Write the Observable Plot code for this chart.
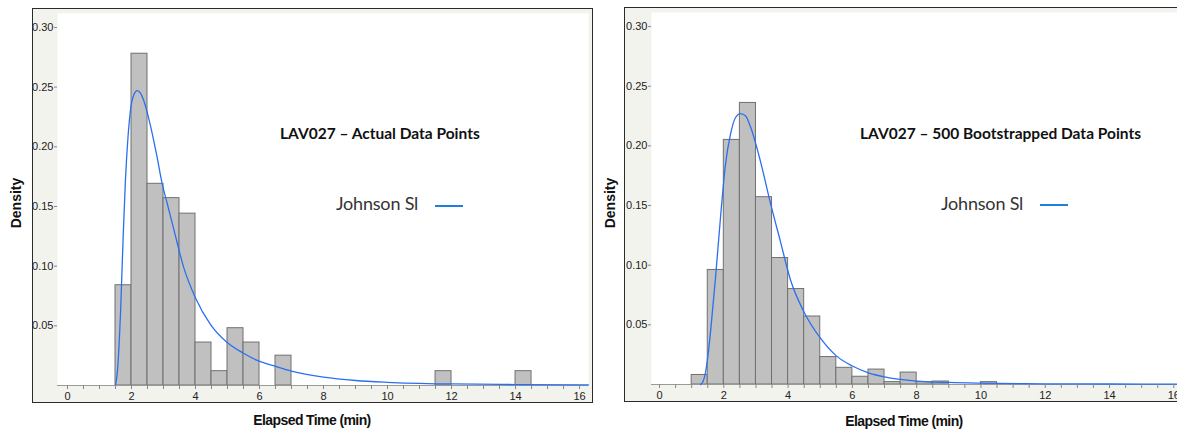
<!DOCTYPE html>
<html>
<head>
<meta charset="utf-8">
<script src="https://cdn.jsdelivr.net/npm/d3@7"></script>
<script src="https://cdn.jsdelivr.net/npm/@observablehq/plot@0.6"></script>
<style>
  html, body { margin: 0; padding: 0; background: #ffffff; }
  #page { position: relative; width: 1177px; height: 434px; overflow: hidden; background: #ffffff; }
  .panel { position: absolute; box-sizing: border-box; background: #f3f3ee; border: 1.5px solid #2b2b2b; overflow: hidden; }
  .panel svg { position: absolute; left: 0; top: 0; }
  .txt { position: absolute; white-space: nowrap; }
  .ylab { font: bold 14px "Liberation Sans", Arial, sans-serif; color: #111; transform: translate(-50%, -50%) rotate(-90deg); }
  .xlab { font: bold 14px "Liberation Sans", Arial, sans-serif; color: #111; transform: translate(-50%, -50%); letter-spacing: -0.6px; }
  .title { font: bold 15.5px Lato, "Open Sans", sans-serif; color: #111; line-height: 20px; }
  .legend { font: 18px Lato, "Open Sans", sans-serif; color: #333; line-height: 24px; letter-spacing: -0.2px; }
  .swatch { position: absolute; height: 2px; background: #1f7fe0; }
</style>
</head>
<body>
<div id="page">
  <div class="panel" id="left" style="left:32px; top:8px; width:561px; height:395px;"></div>
  <div class="panel" id="right" style="left:624px; top:7px; width:570px; height:395px;"></div>

  <div class="txt ylab" style="left:16px; top:203px;">Density</div>
  <div class="txt ylab" style="left:610px; top:203px;">Density</div>
  <div class="txt xlab" style="left:312px; top:420px;">Elapsed Time (min)</div>
  <div class="txt xlab" style="left:904px; top:421px;">Elapsed Time (min)</div>

  <div class="txt title" style="left:280px; top:123px;">LAV027 – Actual Data Points</div>
  <div class="txt title" style="left:860px; top:123px;">LAV027 – 500 Bootstrapped Data Points</div>

  <div class="txt legend" style="left:336px; top:191px;">Johnson Sl</div>
  <div class="swatch" style="left:435px; top:205px; width:28px;"></div>
  <div class="txt legend" style="left:941px; top:191px;">Johnson Sl</div>
  <div class="swatch" style="left:1040px; top:204px; width:28px;"></div>
</div>

<script>
// Histogram bins (lower edge, width 0.5 min) and bar densities
const binWidth = 0.5;

const actualBinStart = [1.5, 2, 2.5, 3, 3.5, 4, 4.5, 5, 5.5, 6.5, 11.5, 14];
const actualDensity  = [0.084, 0.278, 0.169, 0.157, 0.144, 0.036, 0.012, 0.048, 0.036, 0.025, 0.012, 0.012];

const bootBinStart = [1, 1.5, 2, 2.5, 3, 3.5, 4, 4.5, 5, 5.5, 6, 6.5, 7, 7.5, 8, 8.5, 10];
const bootDensity  = [0.008, 0.096, 0.205, 0.236, 0.157, 0.106, 0.080, 0.057, 0.023, 0.014, 0.0065, 0.0125, 0.002, 0.010, 0.002, 0.0025, 0.002];

// Fitted Johnson SL density curves (elapsed time, density)
const actualFitX = [1.5, 1.56, 1.66, 1.74, 1.81, 1.89, 1.97, 2.08, 2.18, 2.28, 2.38, 2.59, 2.78, 2.96, 3.14, 3.32, 3.63, 3.99, 4.47, 4.99, 5.5, 5.93, 6.5, 7, 8, 9, 10, 12, 14, 16.28];
const actualFitY = [0, 0.012, 0.063, 0.125, 0.172, 0.208, 0.231, 0.244, 0.247, 0.245, 0.239, 0.218, 0.194, 0.169, 0.150, 0.131, 0.099, 0.074, 0.051, 0.036, 0.027, 0.021, 0.016, 0.012, 0.007, 0.0042, 0.0027, 0.0013, 0.0008, 0.0005];

const bootFitX = [1.28, 1.36, 1.43, 1.51, 1.59, 1.74, 1.9, 2.05, 2.21, 2.37, 2.52, 2.68, 2.83, 3.14, 3.45, 3.76, 4.07, 4.49, 5.0, 5.5, 6.0, 6.5, 7, 8, 9, 10, 12, 14, 16.27];
const bootFitY = [0, 0.003, 0.010, 0.025, 0.045, 0.089, 0.141, 0.184, 0.210, 0.224, 0.227, 0.225, 0.216, 0.187, 0.152, 0.120, 0.088, 0.061, 0.039, 0.024, 0.0155, 0.0098, 0.0064, 0.0029, 0.0017, 0.0011, 0.0006, 0.0004, 0.0003];

// Axis ticks
const xTickLabels = [0, 2, 4, 6, 8, 10, 12, 14, 16];
const yTickLabels = [0.05, 0.10, 0.15, 0.20, 0.25, 0.30];

const minorTicks = d3.range(0, 16.001, binWidth);

const bars = (starts, dens) => starts.map((s, i) => ({x1: s, x2: s + binWidth, y: dens[i]}));
const pts = (xs, ys) => xs.map((x, i) => ({x, y: ys[i]}));

function panel({width, height, marginLeft, marginRight, marginTop, marginBottom, xDomain, yDomain, hist, fit}) {
  return Plot.plot({
    width, height, marginLeft, marginRight, marginTop, marginBottom,
    style: {background: "transparent", fontFamily: "Liberation Sans, Arial, sans-serif", fontSize: "11px", color: "#222"},
    x: {domain: xDomain},
    y: {domain: yDomain},
    marks: [
      Plot.frame({fill: "white", stroke: null}),
      Plot.rectY(hist, {x1: "x1", x2: "x2", y: "y", fill: "#c0c0c0", stroke: "#707070", strokeWidth: 1}),
      Plot.ruleY([0], {stroke: "#9a9a9a"}),
      Plot.line(fit, {x: "x", y: "y", stroke: "#2b6ff0", strokeWidth: 1.3, curve: "monotone-x"}),
      Plot.axisX({ticks: minorTicks, tickFormat: d => xTickLabels.includes(d) ? String(d) : "", tickSize: 4, tickPadding: 3, stroke: "#888", label: null}),
      Plot.axisY({ticks: yTickLabels, tickFormat: d3.format(".2f"), tickSize: 3, tickPadding: 1, stroke: "#888", label: null})
    ]
  });
}

document.getElementById("left").appendChild(panel({
  width: 559, height: 393,
  marginLeft: 24, marginRight: 4, marginTop: 4, marginBottom: 17,
  xDomain: [-0.3125, 16.28], yDomain: [0, 0.3117],
  hist: bars(actualBinStart, actualDensity),
  fit: pts(actualFitX, actualFitY)
}));

document.getElementById("right").appendChild(panel({
  width: 560, height: 393,
  marginLeft: 26, marginRight: 3, marginTop: 4, marginBottom: 17,
  xDomain: [-0.25, 16.27], yDomain: [0, 0.3118],
  hist: bars(bootBinStart, bootDensity),
  fit: pts(bootFitX, bootFitY)
}));
</script>
</body>
</html>
